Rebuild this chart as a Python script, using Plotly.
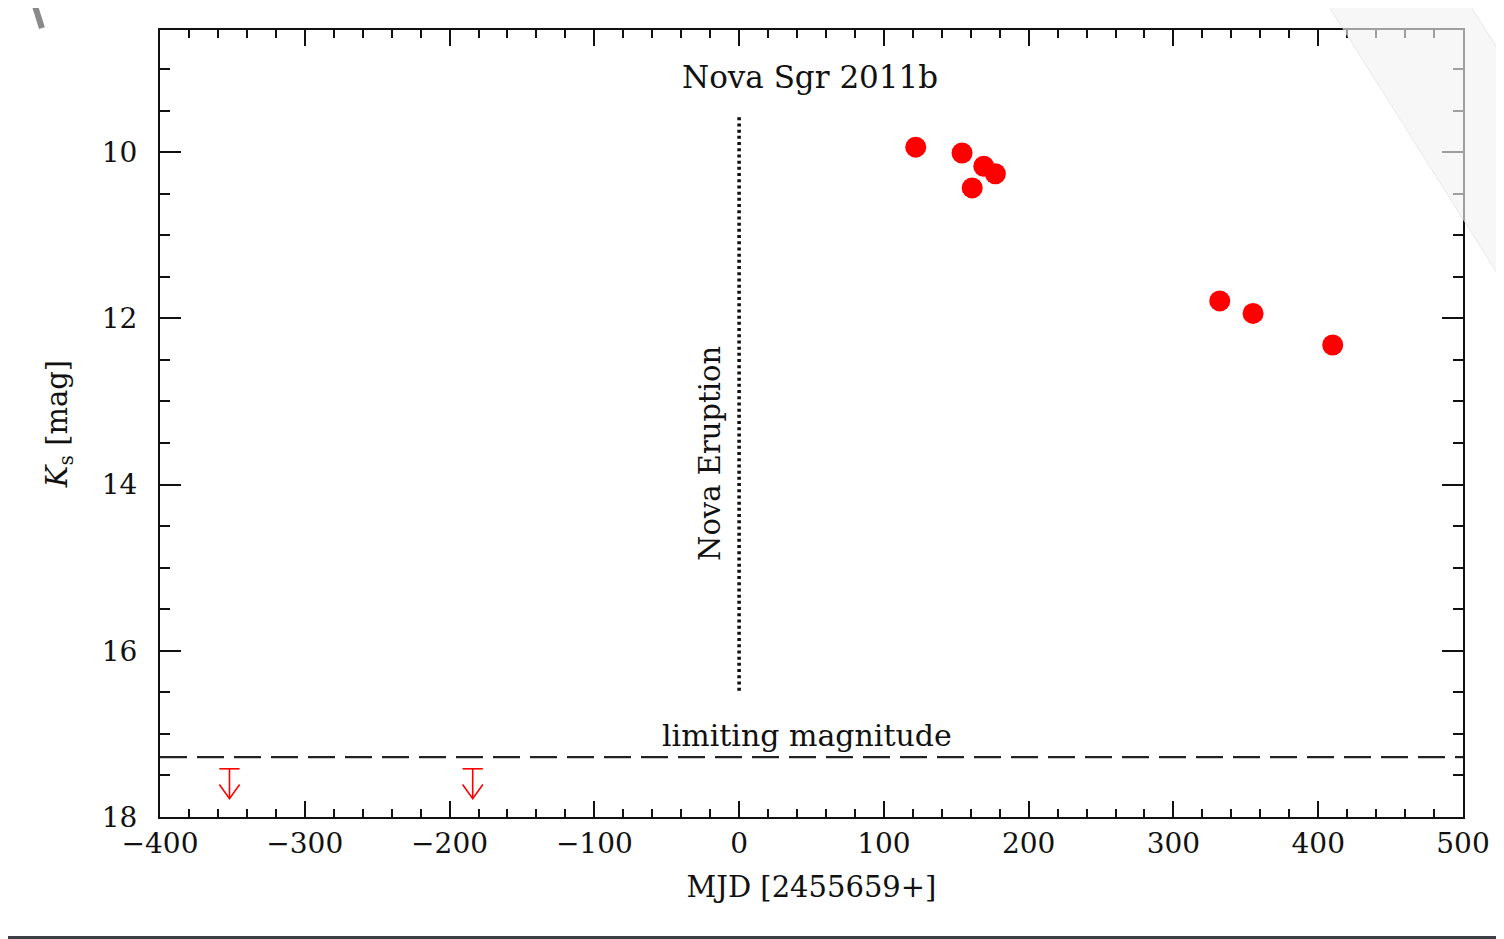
import plotly.graph_objects as go

# ---- data ----
mjd_det = [122, 154, 169, 177, 161, 332, 355, 410]
ks_det = [9.94, 10.01, 10.17, 10.26, 10.43, 11.79, 11.94, 12.32]

mjd_lim = [-352, -184]
ks_lim = [17.42, 17.42]

lim_mag = 17.28
eruption_mjd = 0
eruption_range = [9.58, 16.51]

x_range = [-400, 500]
y_range = [18, 8.53]

FONT = "DejaVu Serif"
BLACK = "#111111"
RED = "#ff0000"

fig = go.Figure()

# dotted nova eruption line
fig.add_trace(go.Scatter(
    x=[eruption_mjd, eruption_mjd], y=eruption_range, mode="lines",
    line=dict(color=BLACK, width=3.6, dash="3px,3.2px"), hoverinfo="skip"))

# limiting magnitude dashed line
fig.add_trace(go.Scatter(
    x=x_range, y=[lim_mag, lim_mag], mode="lines",
    line=dict(color="#222222", width=2.2, dash="27px,10px"), hoverinfo="skip"))

# upper-limit arrows built from the limit data
arr_len = 0.36      # mag
bar_hw = 7          # days
head_dx = 7         # days
head_dy = 0.17      # mag
ax, ay = [], []
for xv, yv in zip(mjd_lim, ks_lim):
    tip = yv + arr_len
    ax += [xv - bar_hw, xv + bar_hw, None,
           xv, xv, None,
           xv - head_dx, xv, xv + head_dx, None]
    ay += [yv, yv, None,
           yv, tip, None,
           tip - head_dy, tip, tip - head_dy, None]
fig.add_trace(go.Scatter(x=ax, y=ay, mode="lines",
                         line=dict(color=RED, width=1.6), hoverinfo="skip"))

# detections
fig.add_trace(go.Scatter(
    x=mjd_det, y=ks_det, mode="markers",
    marker=dict(color=RED, size=21, line=dict(width=0)), hoverinfo="skip"))

axis_common = dict(
    showgrid=False, zeroline=False, showline=True, linecolor=BLACK, linewidth=2,
    mirror="ticks", ticks="inside", tickcolor=BLACK, tickwidth=2,
    tickfont=dict(family=FONT, size=28, color=BLACK),
)

fig.update_xaxes(
    range=x_range, tick0=0, dtick=100, ticklen=16,
    minor=dict(dtick=20, ticks="inside", ticklen=8, tickwidth=2, tickcolor=BLACK),
    ticklabelstandoff=0,
    title=dict(text="MJD [2455659+]", font=dict(family=FONT, size=29, color=BLACK), standoff=18),
    **axis_common)
fig.update_yaxes(
    range=y_range, tick0=0, dtick=2, ticklen=21,
    minor=dict(dtick=0.5, ticks="inside", ticklen=10, tickwidth=2, tickcolor=BLACK),
    ticklabelstandoff=15,
    title=dict(text="<i>K</i><sub>s</sub> [mag]", font=dict(family=FONT, size=29, color=BLACK), standoff=26),
    **axis_common)

fig.add_annotation(x=49, y=9.10, text="Nova Sgr 2011b", showarrow=False,
                   font=dict(family=FONT, size=31, color=BLACK), xanchor="center", yanchor="middle")
fig.add_annotation(x=-20, y=13.63, text="Nova Eruption", showarrow=False, textangle=-90,
                   font=dict(family=FONT, size=29, color=BLACK), xanchor="center", yanchor="middle")
fig.add_annotation(x=47, y=17.02, text="limiting magnitude", showarrow=False,
                   font=dict(family=FONT, size=30, color=BLACK), xanchor="center", yanchor="middle")

# screenshot artefacts: light diagonal band, bottom bar, top-left stroke
fig.add_shape(type="path", xref="paper", yref="paper", layer="above",
              path="M 0.8795,1.0762 L 0.9885,1.0762 L 1.0744,0.8501 L 1.0744,0.5642 Z",
              fillcolor="rgba(242,242,242,0.63)", line=dict(color="rgba(215,215,215,0.5)", width=1))
fig.add_shape(type="rect", xref="paper", yref="paper", layer="above",
              x0=-0.2, x1=1.1, y0=-0.1512, y1=-0.2,
              fillcolor="#3c3f44", line=dict(width=0))
fig.add_shape(type="line", xref="paper", yref="paper", layer="above",
              x0=-0.0998, y0=1.0508, x1=-0.0906, y1=1.0025,
              line=dict(color="#8a8a8a", width=6))

# page body has an 8px margin: shift the figure so the plot area lands at 160..1463 x 30..817
fig.update_layout(
    width=1496, height=931,
    margin=dict(l=152, r=41, t=22, b=122),
    paper_bgcolor="white", plot_bgcolor="white",
    showlegend=False,
)

fig.write_html("out.html")
